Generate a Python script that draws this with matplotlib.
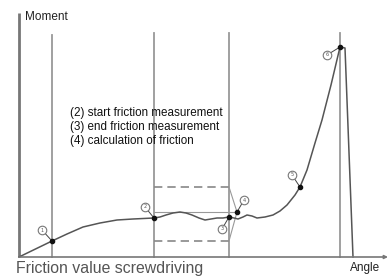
import numpy as np
import matplotlib.pyplot as plt

# torque curve of a screwdriving run (angle vs moment, arbitrary units)
angle = [0, 33, 48, 64, 81, 98, 114, 135, 141, 147, 154, 161, 167, 173,
         180, 186, 192, 198, 204, 210, 215, 219, 224, 228, 233, 238, 246,
         254, 261, 268, 276, 281, 288, 296, 303, 312, 321, 326, 334]
moment = [0, 16, 23, 30, 34, 37, 38, 39, 40, 42, 44, 45, 44, 42,
          39, 37, 38, 39, 39, 40, 39, 38, 40, 42, 41, 39, 40,
          42, 46, 52, 62, 70, 87, 114, 137, 172, 210, 209, 0]

# vertical guide lines
guide_x = [33, 135, 210, 321]
guide_top = [222, 224, 224, 224]

# friction band
band_start, band_end = 135, 210
band_upper, band_lower, band_mean = 70, 16, 45
mean_end = 218

# numbered points: marker position and label position
pt_num = ['1', '2', '3', '4', '5', '6']
pt_x = [33, 135, 210, 218, 281, 321]
pt_y = [16, 39, 40, 45, 70, 210]
lab_x = [23, 126, 203, 225, 273, 308]
lab_y = [27, 50, 28, 57, 82, 202]

legend_lines = ['(2) start friction measurement',
                '(3) end friction measurement',
                '(4) calculation of friction']

narrow = ['Liberation Sans', 'DejaVu Sans']

fig = plt.figure(figsize=(3.88, 2.77), dpi=100)
ax = fig.add_axes([0, 0, 1, 1])
ax.set_xlim(-19, 369)
ax.set_ylim(-20, 257)
ax.axis('off')

# axes
ax.plot([0, 0], [0, 244], color='#777777', lw=2, solid_capstyle='butt')
ax.annotate('', xy=(369, 0), xytext=(0, 0),
            arrowprops=dict(arrowstyle='-|>', color='#777777', lw=1.2,
                            mutation_scale=5, shrinkA=0, shrinkB=0))

for gx, gt in zip(guide_x, guide_top):
    ax.plot([gx, gx], [0, gt], color='#999999', lw=1.3)

# band
ax.plot([band_start, band_end], [band_upper, band_upper], color='#888888',
        lw=1.2, ls=(0, (5, 3)))
ax.plot([band_start, band_end], [band_lower, band_lower], color='#888888',
        lw=1.2, ls=(0, (5, 3)))
ax.plot([band_start, mean_end], [band_mean, band_mean], color='#999999', lw=0.8)
ax.plot([band_end, mean_end, band_end], [band_upper, band_mean, band_lower],
        color='#999999', lw=0.8)

# curve
ax.plot(angle, moment, color='#555555', lw=1.1, solid_joinstyle='round')

# numbered markers
for n, px, py, lx, ly in zip(pt_num, pt_x, pt_y, lab_x, lab_y):
    ax.plot([px, lx], [py, ly], color='#444444', lw=0.7)
    ax.scatter([px], [py], s=9, color='#111111', zorder=5)
    ax.scatter([lx], [ly], s=38, facecolor='white', edgecolor='#777777',
               lw=0.8, zorder=6)
    ax.text(lx, ly, n, fontsize=3.5, ha='center', va='center',
            color='#555555', zorder=7)

for i, t in enumerate(legend_lines):
    ax.text(51, 144 - 14 * i, t, fontsize=8.4, family=narrow, color='#111111',
            va='center', ha='left')

ax.text(6, 240, 'Moment', fontsize=8.5, family=narrow, color='#222222',
        va='center', ha='left')
ax.text(331, -11, 'Angle', fontsize=8.5, family=narrow, color='#222222',
        va='center', ha='left')
ax.text(-3, -12, 'Friction value screwdriving', fontsize=11.4,
        family=['Liberation Sans', 'DejaVu Sans'], color='#555555',
        va='center', ha='left')

fig.savefig('out.png', dpi=100)
